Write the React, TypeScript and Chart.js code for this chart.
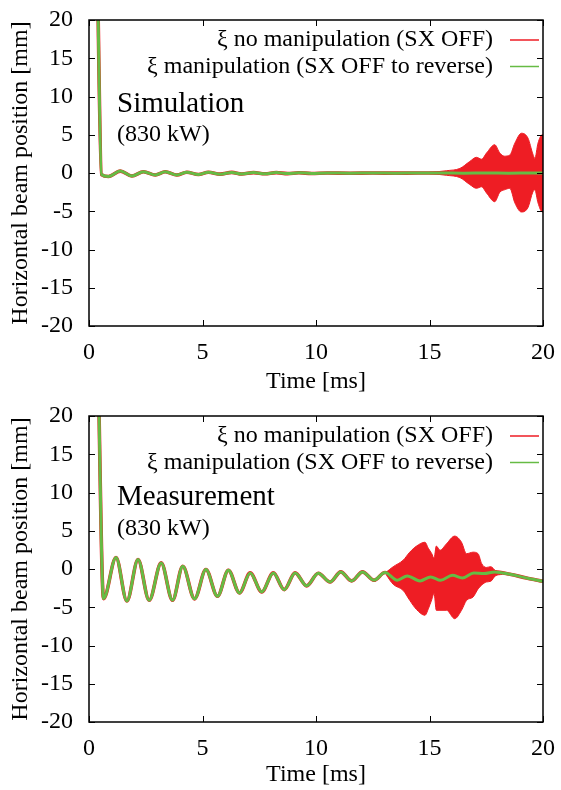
import React, { useEffect, useLayoutEffect, useRef } from "react";
import { Chart, registerables } from "chart.js";

Chart.register(...registerables);

// ---------- data ----------
const xTickValues = [0, 5, 10, 15, 20];
const yTickValues = [-20, -15, -10, -5, 0, 5, 10, 15, 20];
const legendLabels = ["ξ no manipulation (SX OFF)", "ξ manipulation (SX OFF to reverse)"];
const panelTitles = ["Simulation", "Measurement"];
const panelSubtitle = "(830 kW)";
const xAxisTitle = "Time [ms]";
const yAxisTitle = "Horizontal beam position [mm]";

// Simulation: beam position (ms, mm) at turning points
const simTime = [0.35, 0.55, 0.86, 1.38, 1.89, 2.4, 2.92, 3.36, 3.87, 4.31, 4.82, 5.26, 5.78, 6.29, 6.73, 7.25, 7.75, 8.25, 8.75, 9.25, 9.8, 10.5, 11.5, 12.5, 13.5, 14.5, 15.5, 16.5, 17.5, 18.5, 19.5, 20];
const simPos = [30, -0.2, -0.45, 0.25, -0.4, 0.17, -0.26, 0.17, -0.26, 0.1, -0.2, 0.1, -0.15, 0.08, -0.13, 0.05, -0.1, 0.05, -0.08, 0.03, -0.06, 0, -0.03, 0, -0.02, 0, 0, -0.03, 0, -0.03, 0, 0];
// Simulation: envelope of the fast oscillation without manipulation
const simBandTime = [15.0, 15.3, 15.75, 16.34, 16.77, 17.07, 17.29, 17.51, 17.87, 18.1, 18.3, 18.54, 18.76, 19.05, 19.34, 19.55, 19.64, 19.78, 19.97, 20];
const simBandUpper = [0.1, 0.15, 0.3, 0.6, 1.5, 2.05, 1.8, 2.6, 3.7, 2.6, 2.2, 2.35, 3.9, 5.2, 4.55, 2.5, 1.9, 3.9, 5.0, 5.0];
const simBandLower = [-0.1, -0.15, -0.3, -0.6, -1.5, -2.0, -1.8, -2.6, -3.75, -2.5, -2.2, -2.0, -3.9, -5.1, -4.5, -2.5, -2.2, -3.9, -5.1, -5.1];

// Measurement: beam position (ms, mm) at turning points
const measTime = [0.38, 0.64, 1.19, 1.67, 2.16, 2.65, 3.18, 3.68, 4.13, 4.65, 5.15, 5.66, 6.14, 6.63, 7.1, 7.61, 8.12, 8.6, 9.08, 9.59, 10.1, 10.62, 11.09, 11.57, 12.05, 12.55, 13.04, 13.58, 14.02, 14.58, 15.05, 15.49, 16.01, 16.45, 16.95, 17.4, 17.88, 18.54, 19.27, 20];
const measPos = [30, -3.87, 1.5, -4.18, 1.23, -4.09, 0.8, -4.09, 0.36, -3.9, -0.07, -3.57, -0.16, -3.13, -0.51, -3.0, -0.51, -2.7, -0.51, -2.2, -0.55, -1.7, -0.38, -1.56, -0.38, -1.47, -0.46, -1.47, -0.9, -1.56, -1.03, -1.47, -0.82, -1.17, -0.51, -0.6, -0.38, -0.69, -1.17, -1.6];
// Measurement: envelope of the fast oscillation without manipulation
const measBandTime = [13.1, 13.4, 13.84, 14.13, 14.43, 14.8, 14.95, 15.1, 15.2, 15.3, 15.46, 15.75, 16.11, 16.41, 16.63, 16.92, 17.14, 17.3, 17.5, 17.7, 17.9, 18.2];
const measBandUpper = [-0.4, 0.3, 1.15, 2.2, 3.0, 3.5, 2.7, 2.0, 1.4, 3.0, 2.45, 3.3, 4.3, 3.5, 2.0, 2.2, 2.0, 0.7, 0.2, 0.3, -0.2, -0.5];
const measBandLower = [-0.8, -2.0, -2.8, -4.1, -5.3, -6.05, -5.2, -4.0, -3.2, -5.4, -5.4, -5.4, -6.5, -5.4, -4.1, -3.66, -2.6, -2.1, -1.7, -1.6, -0.9, -0.7];

// ---------- style ----------
const RED = "#ee1d24";
const GREEN = "#66bb44";
const FONT = '"Liberation Serif", "DejaVu Serif", serif';
const W = 561;
const H = 395;
const PLOT_LEFT = 89;
const PLOT_RIGHT = 543;
const TICK_LEN = 6;

type PanelProps = {
  time: number[];
  pos: number[];
  bandTime: number[];
  bandUpper: number[];
  bandLower: number[];
  title: string;
  top: number;
  bottom: number;
  titleBase: number;
  subBase: number;
  xTitleY: number;
};

function pts(xs: number[], ys: number[]) {
  return xs.map((x, i) => ({ x, y: ys[i] }));
}

function noPad(s: any) {
  s.paddingLeft = 0;
  s.paddingRight = 0;
  s.paddingTop = 0;
  s.paddingBottom = 0;
}

function Panel(p: PanelProps) {
  const ref = useRef<HTMLCanvasElement | null>(null);
  useEffect(() => {
    const canvas = ref.current;
    if (!canvas) return;
    const decor = {
      id: "decor",
      afterDraw(chart: any) {
        const ctx = chart.ctx;
        const a = chart.chartArea;
        const xs = chart.scales.x;
        const ys = chart.scales.y;
        ctx.save();
        // frame
        ctx.strokeStyle = "#000";
        ctx.lineWidth = 1.5;
        ctx.strokeRect(a.left, a.top, a.right - a.left, a.bottom - a.top);
        // inward ticks on all four sides
        ctx.lineWidth = 1;
        ctx.beginPath();
        xTickValues.forEach((v) => {
          const px = Math.round(xs.getPixelForValue(v)) + 0.5;
          ctx.moveTo(px, a.bottom);
          ctx.lineTo(px, a.bottom - TICK_LEN);
          ctx.moveTo(px, a.top);
          ctx.lineTo(px, a.top + TICK_LEN);
        });
        yTickValues.forEach((v) => {
          const py = Math.round(ys.getPixelForValue(v)) + 0.5;
          ctx.moveTo(a.left, py);
          ctx.lineTo(a.left + TICK_LEN, py);
          ctx.moveTo(a.right, py);
          ctx.lineTo(a.right - TICK_LEN, py);
        });
        ctx.stroke();
        // legend
        ctx.font = `24px ${FONT}`;
        ctx.textAlign = "right";
        ctx.textBaseline = "middle";
        const rows = [a.top + 20, a.top + 46.5];
        const cols = [RED, GREEN];
        legendLabels.forEach((lab, i) => {
          ctx.fillStyle = "#000000";
          ctx.fillText(lab, 493, rows[i]);
          ctx.strokeStyle = cols[i];
          ctx.lineWidth = 1.5;
          ctx.beginPath();
          ctx.moveTo(510, rows[i]);
          ctx.lineTo(539, rows[i]);
          ctx.stroke();
        });
        // panel labels
        ctx.fillStyle = "#000000";
        ctx.textAlign = "left";
        ctx.textBaseline = "alphabetic";
        ctx.font = `29px ${FONT}`;
        ctx.fillText(p.title, 117, p.titleBase);
        ctx.font = `24px ${FONT}`;
        ctx.fillText(panelSubtitle, 117, p.subBase);
        // axis titles
        ctx.textAlign = "center";
        ctx.textBaseline = "middle";
        ctx.fillText(xAxisTitle, (a.left + a.right) / 2, p.xTitleY);
        ctx.translate(21, (a.top + a.bottom) / 2);
        ctx.rotate(-Math.PI / 2);
        ctx.fillText(yAxisTitle, 0, 0);
        ctx.restore();
      },
    };
    const chart = new Chart(canvas, {
      type: "line",
      data: {
        datasets: [
          {
            label: legendLabels[1],
            data: pts(p.time, p.pos),
            borderColor: GREEN,
            borderWidth: 3,
            pointRadius: 0,
            cubicInterpolationMode: "monotone",
            fill: false,
          },
          {
            label: legendLabels[0],
            data: pts(p.time, p.pos),
            borderColor: RED,
            borderWidth: 3.6,
            pointRadius: 0,
            cubicInterpolationMode: "monotone",
            fill: false,
          },
          {
            label: "upper",
            data: pts(p.bandTime, p.bandUpper),
            borderColor: RED,
            backgroundColor: RED,
            borderWidth: 1,
            pointRadius: 0,
            cubicInterpolationMode: "monotone",
            fill: "+1",
          },
          {
            label: "lower",
            data: pts(p.bandTime, p.bandLower),
            borderColor: RED,
            borderWidth: 1,
            pointRadius: 0,
            cubicInterpolationMode: "monotone",
            fill: false,
          },
        ],
      },
      options: {
        responsive: false,
        animation: false,
        layout: {
          autoPadding: false,
          padding: { left: 0, right: W - PLOT_RIGHT, top: p.top, bottom: 0 },
        },
        plugins: {
          legend: { display: false },
          tooltip: { enabled: false },
        },
        scales: {
          x: {
            type: "linear",
            min: 0,
            max: 20,
            grid: { display: false, drawTicks: false },
            border: { display: false },
            ticks: {
              stepSize: 5,
              padding: 12,
              color: "#000",
              font: { family: FONT, size: 24 },
              maxRotation: 0,
              callback: (v: any) => String(v),
            },
            afterFit: (s: any) => {
              s.height = H - p.bottom;
              noPad(s);
            },
          },
          y: {
            type: "linear",
            min: -20,
            max: 20,
            grid: { display: false, drawTicks: false },
            border: { display: false },
            ticks: {
              stepSize: 5,
              padding: 16,
              color: "#000",
              font: { family: FONT, size: 24 },
              callback: (v: any) => String(v),
            },
            afterFit: (s: any) => {
              s.width = PLOT_LEFT;
              noPad(s);
            },
          },
        },
      },
      plugins: [decor],
    } as any);
    return () => chart.destroy();
  }, []);

  return (
    <canvas
      ref={ref}
      width={W}
      height={H}
      style={{ display: "block", width: W, height: H }}
    />
  );
}

export default function App() {
  useLayoutEffect(() => {
    document.body.style.margin = "0";
  }, []);
  return (
    <div style={{ width: W, height: 2 * H }}>
      <Panel
        time={simTime}
        pos={simPos}
        bandTime={simBandTime}
        bandUpper={simBandUpper}
        bandLower={simBandLower}
        title={panelTitles[0]}
        top={20}
        bottom={326}
        titleBase={112}
        subBase={141}
        xTitleY={382}
      />
      <Panel
        time={measTime}
        pos={measPos}
        bandTime={measBandTime}
        bandUpper={measBandUpper}
        bandLower={measBandLower}
        title={panelTitles[1]}
        top={21}
        bottom={327}
        titleBase={110}
        subBase={140}
        xTitleY={380}
      />
    </div>
  );
}
